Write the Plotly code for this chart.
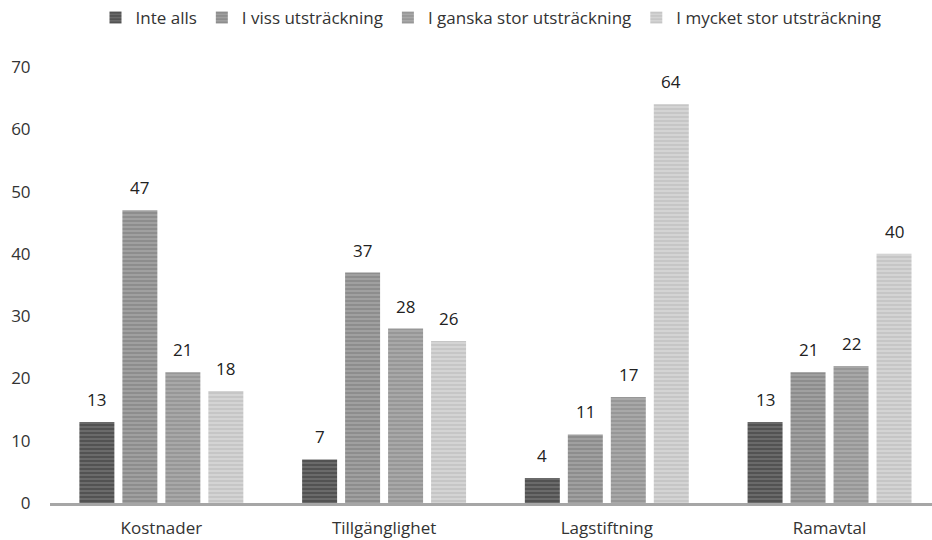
import plotly.graph_objects as go

categories = ["Kostnader", "Tillgänglighet", "Lagstiftning", "Ramavtal"]
series_names = ["Inte alls", "I viss utsträckning", "I ganska stor utsträckning", "I mycket stor utsträckning"]
inte_alls = [13, 7, 4, 13]
viss = [47, 37, 11, 21]
ganska = [21, 28, 17, 22]
mycket = [18, 26, 64, 40]
y_ticks = [0, 10, 20, 30, 40, 50, 60, 70]

values = [inte_alls, viss, ganska, mycket]
bg = ["#6a6a6a", "#a0a0a0", "#a8a8a8", "#d4d4d4"]
fg = ["#3a3a3a", "#7a7a7a", "#858585", "#b8b8b8"]
FONT = "Open Sans"

fig = go.Figure()
for i, (name, vals, b, f) in enumerate(zip(series_names, values, bg, fg)):
    fig.add_trace(go.Bar(
        x=categories, y=vals, name=name,
        marker=dict(color=b, line=dict(width=0),
                    pattern=dict(shape="-", fgcolor=f, bgcolor=b, size=4, solidity=0.5, fillmode="overlay")),
    ))
    for c, v in zip(categories, vals):
        fig.add_annotation(x=c, y=v, text=str(v), showarrow=False,
                           xshift=(i - 1.5) * 43, yshift=9, yanchor="bottom",
                           font=dict(size=17, color="#222222", family=FONT))

fig.update_layout(
    width=932, height=540,
    paper_bgcolor="white", plot_bgcolor="white",
    margin=dict(l=50, r=0, t=67, b=37, autoexpand=False),
    barmode="group", bargap=0.228, bargroupgap=0.186,
    font=dict(family=FONT, size=17, color="#333333"),
    legend=dict(orientation="h", x=0.5, xanchor="center", y=1.0, yanchor="top",
                yref="container", font=dict(size=17, color="#333333"),
                itemwidth=30, traceorder="normal"),
    showlegend=True,
)
fig.update_yaxes(range=[0, 70], tickvals=y_ticks, showgrid=False, zeroline=False,
                 showline=False, ticks="outside", ticklen=15, tickcolor="rgba(0,0,0,0)",
                 tickfont=dict(size=17, color="#333333"))
fig.update_xaxes(range=[-0.5, 3.46], showline=True, linecolor="#a6a6a6", linewidth=3, ticks="",
                 ticklabelstandoff=8, tickfont=dict(size=17, color="#333333"))

fig.write_html("out.html", config={"displayModeBar": False},
               post_script="document.body.style.margin='0';")
